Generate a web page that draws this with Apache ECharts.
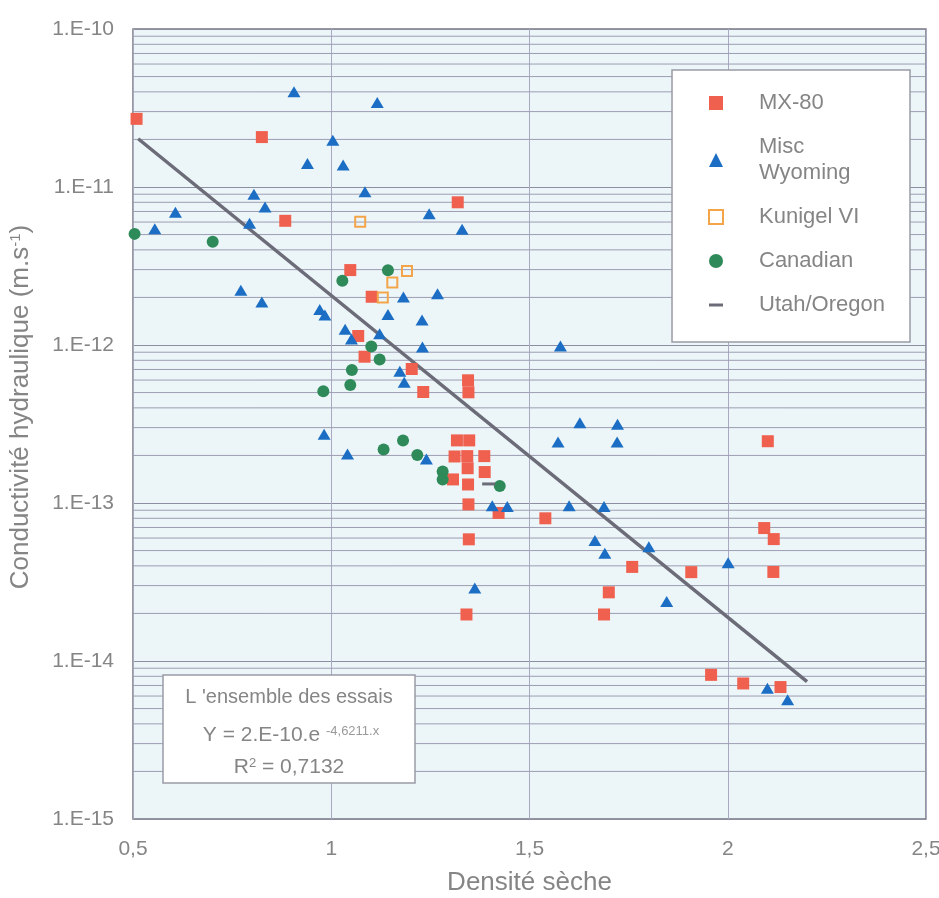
<!DOCTYPE html>
<html>
<head>
<meta charset="utf-8">
<script src="https://cdn.jsdelivr.net/npm/echarts@6/dist/echarts.min.js"></script>
<style>
html, body { margin: 0; padding: 0; background: #fff; }
#chart { width: 939px; height: 898px; }
</style>
</head>
<body>
<div id="chart"></div>
<script>
// tick labels
var xTickLabels = ['0,5', '1', '1,5', '2', '2,5'];
var yTickLabels = ['1.E-15', '1.E-14', '1.E-13', '1.E-12', '1.E-11', '1.E-10'];
var decades = [-15, -14, -13, -12, -11];
var minorSteps = [2, 3, 4, 5, 6, 7, 8, 9];

// [densite seche, conductivite]
var mx80 = [[0.509, 2.70e-11], [0.825, 2.07e-11], [0.884, 6.11e-12], [1.319, 8.0e-12], [1.048, 2.98e-12],
  [1.102, 2.02e-12], [1.068, 1.14e-12], [1.084, 8.43e-13], [1.203, 7.05e-13], [1.232, 5.04e-13],
  [1.345, 5.98e-13], [1.346, 5.02e-13], [1.317, 2.49e-13], [1.348, 2.49e-13], [1.311, 1.97e-13],
  [1.343, 1.98e-13], [1.344, 1.66e-13], [1.386, 1.98e-13], [1.387, 1.57e-13], [1.307, 1.41e-13],
  [1.345, 1.31e-13], [1.346, 9.8e-14], [1.422, 8.65e-14], [1.540, 8.0e-14], [1.347, 5.89e-14],
  [1.341, 1.97e-14], [2.101, 2.46e-13], [2.092, 6.94e-14], [2.116, 5.91e-14], [2.115, 3.66e-14],
  [1.759, 3.94e-14], [1.700, 2.72e-14], [1.688, 1.97e-14], [1.908, 3.65e-14], [1.958, 8.17e-15],
  [2.039, 7.21e-15], [2.133, 6.84e-15]];
var miscWyoming = [[0.906, 4.0e-11], [1.116, 3.43e-11], [1.004, 1.98e-11], [0.940, 1.41e-11], [1.030, 1.38e-11],
  [0.805, 9.0e-12], [1.085, 9.33e-12], [0.833, 7.46e-12], [0.607, 6.92e-12], [0.794, 5.89e-12],
  [0.555, 5.44e-12], [1.247, 6.76e-12], [1.330, 5.40e-12], [0.772, 2.22e-12], [0.825, 1.87e-12],
  [1.182, 2.01e-12], [1.268, 2.11e-12], [0.971, 1.68e-12], [0.984, 1.55e-12], [1.143, 1.56e-12],
  [1.229, 1.44e-12], [1.035, 1.26e-12], [1.122, 1.18e-12], [1.051, 1.09e-12], [1.230, 9.73e-13],
  [1.173, 6.83e-13], [1.184, 5.82e-13], [1.578, 9.86e-13], [0.982, 2.72e-13], [1.041, 2.04e-13],
  [1.240, 1.90e-13], [1.627, 3.22e-13], [1.722, 3.15e-13], [1.572, 2.43e-13], [1.721, 2.43e-13],
  [1.600, 9.6e-14], [1.688, 9.5e-14], [1.406, 9.6e-14], [1.444, 9.5e-14], [1.665, 5.8e-14],
  [1.690, 4.8e-14], [1.801, 5.28e-14], [1.846, 2.38e-14], [2.001, 4.19e-14], [1.362, 2.9e-14],
  [2.100, 6.73e-15], [2.151, 5.68e-15]];
var kunigel = [[1.073, 6.03e-12], [1.191, 2.94e-12], [1.154, 2.49e-12], [1.130, 2.0e-12]];
var canadian = [[0.504, 5.05e-12], [0.701, 4.5e-12], [1.143, 2.97e-12], [1.028, 2.55e-12], [1.101, 9.77e-13],
  [1.122, 8.1e-13], [1.052, 6.95e-13], [1.048, 5.58e-13], [0.980, 5.09e-13], [1.181, 2.49e-13],
  [1.132, 2.18e-13], [1.217, 2.01e-13], [1.281, 1.58e-13], [1.281, 1.41e-13], [1.425, 1.28e-13]];
var utahOregon = [[1.397, 1.32e-13]];
// regression line end points
var trend = [[0.513, 2.02e-11], [2.200, 7.41e-15]];

var textGrey = '#858585';
var font = 'Liberation Sans, Arial, sans-serif';
var xMin = 0.5, xMax = 2.5;

// minor log grid values (2..9 x each decade)
var minorGrid = [];
decades.forEach(function (d) {
  minorSteps.forEach(function (m) {
    minorGrid.push([xMin, m * Math.pow(10, d)]);
  });
});

var chart = echarts.init(document.getElementById('chart'));
chart.setOption({
  animation: false,
  textStyle: { fontFamily: font },
  grid: {
    left: 133, right: 13, top: 29, bottom: 79,
    show: true, backgroundColor: '#ecf6f9', borderColor: '#77777f', borderWidth: 1.5,
    outerBoundsMode: 'none'
  },
  legend: {
    orient: 'vertical', left: 708, top: 90, padding: 0, itemGap: 18, z: 12,
    itemWidth: 14, itemHeight: 14,
    textStyle: { fontSize: 22, color: textGrey, lineHeight: 26, padding: [0, 0, 0, 31] },
    formatter: function (n) { return n === 'Misc Wyoming' ? 'Misc\nWyoming' : n; },
    data: [
      { name: 'MX-80', icon: 'rect' },
      { name: 'Misc Wyoming', icon: 'triangle' },
      { name: 'Kunigel VI', icon: 'rect' },
      { name: 'Canadian', icon: 'circle' },
      { name: 'Utah/Oregon', icon: 'path://M0,0 L14,0 L14,3 L0,3 Z' }
    ]
  },
  xAxis: {
    type: 'value', min: xMin, max: xMax, interval: 0.5,
    name: 'Densité sèche', nameLocation: 'middle', nameGap: 51,
    nameTextStyle: { fontSize: 26, color: textGrey },
    axisLine: { show: false }, axisTick: { show: false },
    axisLabel: {
      fontSize: 21, color: textGrey, margin: 20,
      formatter: function (v) { return xTickLabels[Math.round((v - 0.5) / 0.5)]; }
    },
    splitLine: { show: true, lineStyle: { color: '#a9a9c2', width: 1 } }
  },
  yAxis: {
    type: 'log', logBase: 10, min: 1e-15, max: 1e-10,
    name: 'Conductivité hydraulique (m.s{sup|-1})', nameLocation: 'middle', nameGap: 99,
    nameTextStyle: {
      fontSize: 26, color: textGrey, padding: [0, 0, 0, 34],
      rich: { sup: { fontSize: 15, color: textGrey, verticalAlign: 'top' } }
    },
    axisLine: { show: false }, axisTick: { show: false },
    axisLabel: {
      fontSize: 21, color: textGrey, margin: 19,
      formatter: function (v) { return yTickLabels[Math.round(Math.log10(v)) + 15]; }
    },
    splitLine: { show: true, lineStyle: { color: '#8e8ea2', width: 1.2 } }
  },
  series: [
    {
      name: 'minorGrid', type: 'custom', data: minorGrid, z: 1, silent: true,
      encode: { x: 0, y: 1 },
      renderItem: function (params, api) {
        var v = api.value(1);
        var p1 = api.coord([xMin, v]);
        var p2 = api.coord([xMax, v]);
        return {
          type: 'line',
          shape: { x1: p1[0], y1: p1[1], x2: p2[0], y2: p2[1] },
          style: { stroke: '#9d9db2', lineWidth: 1 }
        };
      }
    },
    {
      name: 'trend', type: 'line', data: trend, symbol: 'none', z: 3, silent: true,
      lineStyle: { color: '#6c6c79', width: 3.5 }
    },
    {
      name: 'MX-80', type: 'scatter', data: mx80, symbol: 'rect', symbolSize: 12, z: 4,
      itemStyle: { color: '#f0604f', opacity: 1 }
    },
    {
      name: 'Misc Wyoming', type: 'scatter', data: miscWyoming, symbol: 'triangle', symbolSize: [13, 11], z: 4,
      itemStyle: { color: '#1b6ec4', opacity: 1 }
    },
    {
      name: 'Kunigel VI', type: 'scatter', data: kunigel, symbol: 'rect', symbolSize: 10, z: 4,
      itemStyle: { color: 'rgba(255,255,255,0)', borderColor: '#f4a54a', borderWidth: 2, opacity: 1 }
    },
    {
      name: 'Canadian', type: 'scatter', data: canadian, symbol: 'circle', symbolSize: 12, z: 4,
      itemStyle: { color: '#2f8a5a', opacity: 1 }
    },
    {
      name: 'Utah/Oregon', type: 'scatter', data: utahOregon, symbol: 'rect', symbolSize: [13, 3], z: 4,
      itemStyle: { color: '#6c6c79', opacity: 1 }
    }
  ],
  graphic: [
    {
      type: 'rect', z: 10, shape: { x: 672, y: 70, width: 238, height: 272 },
      style: { fill: '#ffffff', stroke: '#9a9aa6', lineWidth: 1.5 }
    },
    {
      type: 'rect', z: 10, shape: { x: 163, y: 675, width: 252, height: 108 },
      style: { fill: '#ffffff', stroke: '#9a9aa6', lineWidth: 1.5 }
    },
    {
      type: 'text', z: 11, x: 289, y: 697,
      style: { text: "L 'ensemble des essais", fontSize: 20, fill: textGrey, align: 'center', verticalAlign: 'middle', fontFamily: font }
    },
    {
      type: 'text', z: 11, x: 291, y: 735,
      style: {
        text: 'Y = 2.E-10.e {s|-4,6211.x}', fontSize: 21, fill: textGrey, align: 'center', verticalAlign: 'middle',
        fontFamily: font,
        rich: { s: { fontSize: 13, fill: '#9a9a9a', verticalAlign: 'top', fontFamily: font } }
      }
    },
    {
      type: 'text', z: 11, x: 289, y: 767,
      style: {
        text: 'R{s|2} = 0,7132', fontSize: 21, fill: textGrey, align: 'center', verticalAlign: 'middle',
        fontFamily: font,
        rich: { s: { fontSize: 13, fill: textGrey, verticalAlign: 'top', fontFamily: font } }
      }
    }
  ]
});
</script>
</body>
</html>
